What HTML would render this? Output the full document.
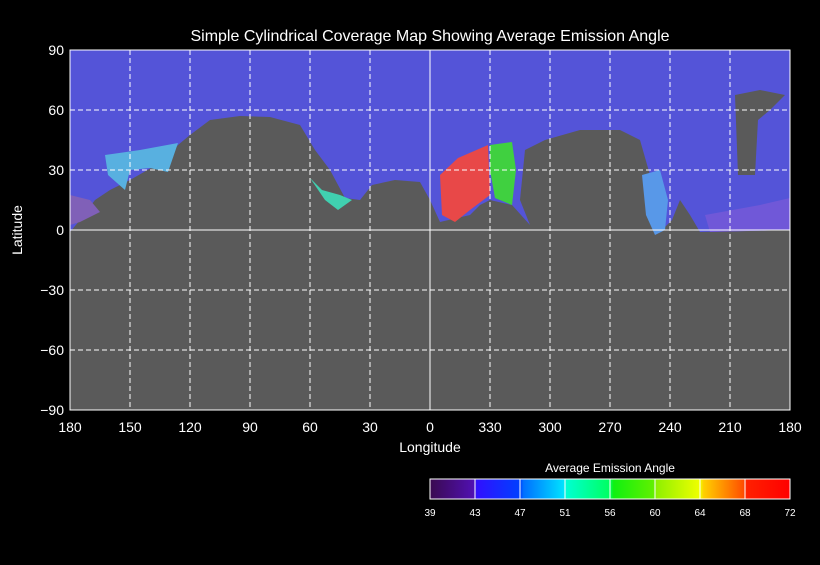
<!DOCTYPE html>
<html><head><meta charset="utf-8"><style>
body{margin:0;background:#000;}
svg text{font-family:"Liberation Sans",sans-serif;fill:#fff;}
</style></head><body>
<svg width="820" height="560" viewBox="0 0 820 560">
<defs>
<linearGradient id="cb" x1="0" x2="1" y1="0" y2="0">
<stop offset="0" stop-color="#3a0a50"/><stop offset="0.12" stop-color="#5010b0"/>
<stop offset="0.13" stop-color="#3010ff"/><stop offset="0.25" stop-color="#0040ff"/>
<stop offset="0.26" stop-color="#0070ff"/><stop offset="0.37" stop-color="#00e0ff"/>
<stop offset="0.38" stop-color="#00ffd0"/><stop offset="0.5" stop-color="#00ff60"/>
<stop offset="0.51" stop-color="#10f010"/><stop offset="0.62" stop-color="#60f000"/>
<stop offset="0.63" stop-color="#90f000"/><stop offset="0.75" stop-color="#f0ff00"/>
<stop offset="0.76" stop-color="#ffd000"/><stop offset="0.87" stop-color="#ff5000"/>
<stop offset="0.88" stop-color="#ff2000"/><stop offset="1" stop-color="#ff0000"/>
</linearGradient>
</defs>
<text x="430" y="41" font-size="16" text-anchor="middle">Simple Cylindrical Coverage Map Showing Average Emission Angle</text>
<g id="plot">
<rect x="70" y="50" width="720" height="360" fill="#5a5a5a"/>
<path fill="#5454d8" d="M70,50 H790 V230 L700,232 L690,215 L680,200 L672,220 L660,232 L650,175 L640,140 L620,130 L580,130 L545,140 L525,150 L520,200 L530,225 L512,205 L490,200 L480,205 L470,215 L440,222 L430,200 L420,182 L395,180 L372,185 L360,200 L345,198 L330,170 L315,150 L300,125 L270,117 L240,116 L210,120 L190,135 L178,145 L165,160 L130,180 L110,190 L95,200 L80,220 L70,232 Z"/>
<path fill="#58b0e0" d="M105,155 L140,150 L178,143 L168,172 L150,168 L130,170 L125,190 L108,175 Z"/>
<path fill="#40d0b0" d="M310,178 L322,190 L340,195 L352,200 L338,210 L325,200 Z"/>
<path fill="#e84848" d="M440,175 L458,158 L488,145 L490,195 L470,210 L455,222 L442,215 Z"/>
<path fill="#40d040" d="M490,145 L512,142 L516,170 L512,205 L495,198 L490,170 Z"/>
<path fill="#5898e8" d="M642,175 L660,170 L668,200 L665,230 L655,235 L646,215 Z"/>
<path fill="#8060b8" d="M70,195 L90,200 L100,212 L80,222 L70,225 Z"/>
<path fill="#7058d8" d="M705,215 L760,205 L790,198 V230 L710,232 Z"/>
<path fill="#5a5a5a" d="M735,95 L760,90 L785,95 L770,110 L758,120 L755,175 L738,175 Z"/>
<g id="grid" stroke="#fff" stroke-width="1" stroke-dasharray="5,3"></g>
<line x1="70" y1="230" x2="790" y2="230" stroke="#fff"/>
<line x1="430" y1="50" x2="430" y2="410" stroke="#fff"/>
<rect x="70" y="50" width="720" height="360" fill="none" stroke="#fff"/>
</g>
<g id="xt" font-size="14"></g>
<g id="yt" font-size="14"></g>
<text x="430" y="452" font-size="14" text-anchor="middle">Longitude</text>
<text x="22" y="230" font-size="14" text-anchor="middle" transform="rotate(-90 22 230)">Latitude</text>
<text x="610" y="472" font-size="12" text-anchor="middle">Average Emission Angle</text>
<rect x="430" y="479" width="360" height="20" fill="url(#cb)" stroke="#fff"/>
<g id="cbt" font-size="10"></g>
</svg>
<script>
const lonLabels=["180","150","120","90","60","30","0","330","300","270","240","210","180"];
const latLabels=[90,60,30,0,-30,-60,-90];
const cbLabels=["39","43","47","51","56","60","64","68","72"];
const NS="http://www.w3.org/2000/svg";
const X0=70,X1=790,Y0=50,Y1=410;
const xs=i=>X0+(X1-X0)*i/(lonLabels.length-1);
const ys=v=>Y0+(90-v)/180*(Y1-Y0);
const grid=document.getElementById('grid'),xt=document.getElementById('xt'),yt=document.getElementById('yt'),cbt=document.getElementById('cbt');
function mk(t,a){const e=document.createElementNS(NS,t);for(const k in a)e.setAttribute(k,a[k]);return e;}
lonLabels.forEach((l,i)=>{
 const x=xs(i);
 if(i>0&&i<lonLabels.length-1){const g=mk('line',{x1:x,y1:Y0,x2:x,y2:Y1});
 
 grid.appendChild(g);}
 const t=mk('text',{x:x,y:432,'text-anchor':'middle'});t.textContent=l;
 
 xt.appendChild(t);
});
latLabels.forEach(v=>{
 const y=ys(v);
 if(v!==90&&v!==-90){const g=mk('line',{x1:X0,y1:y,x2:X1,y2:y});
 
 grid.appendChild(g);}
 const t=mk('text',{x:64,y:y+5,'text-anchor':'end'});t.textContent=(v<0?'\u2212'+(-v):v);
 
 yt.appendChild(t);
});
cbLabels.forEach((l,i)=>{
 const x=430+360*i/(cbLabels.length-1);
 if(i>0&&i<cbLabels.length-1){const s=mk('line',{x1:x,y1:479,x2:x,y2:499,stroke:'#fff'});
 
 cbt.appendChild(s);}
 const t=mk('text',{x:x,y:516,'text-anchor':'middle'});t.textContent=l;
 
 cbt.appendChild(t);
});
</script>
</body></html>
